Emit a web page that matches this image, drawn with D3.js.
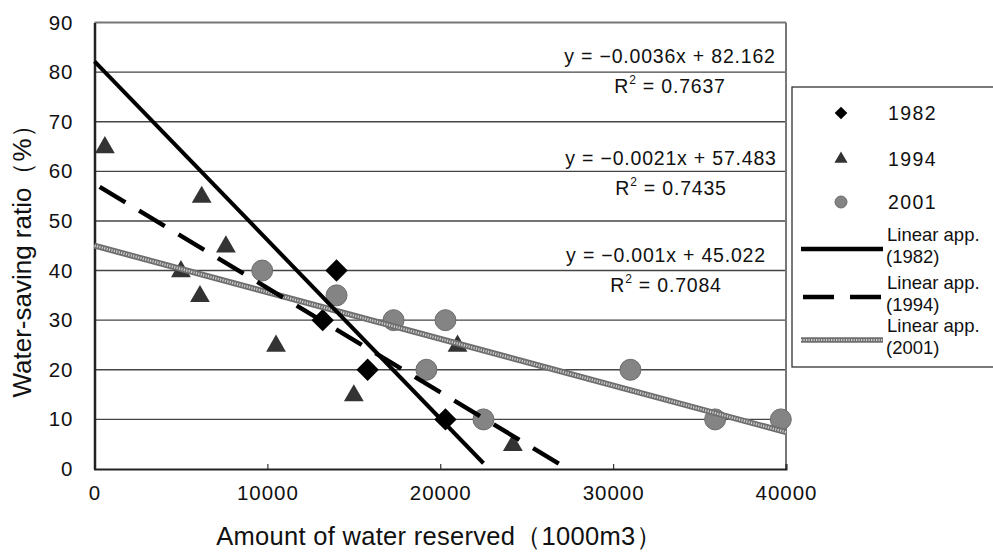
<!DOCTYPE html>
<html lang="en">
<head>
    <meta charset="UTF-8">
    <title>water saving ratio</title>
    <style>
        body{
            overflow: hidden;
            margin: 0;
            background: #fff;
        }
        text{ font-family: "Liberation Sans", Arial, sans-serif; fill: #111; }
    </style>
</head>
<body>
    <script src="https://cdnjs.cloudflare.com/ajax/libs/d3/7.8.2/d3.min.js"></script>
    <script>

// ---- data ----
const years = ['1982', '1994', '2001']

const x1982 = [13200, 14000, 15800, 20300]
const y1982 = [30, 40, 20, 10]

const x1994 = [600, 5000, 6100, 6200, 7600, 10500, 15000, 21000, 24200]
const y1994 = [65, 40, 35, 55, 45, 25, 15, 25, 5]

const x2001 = [9700, 14000, 17300, 19200, 20300, 22500, 31000, 35900, 39700]
const y2001 = [40, 35, 30, 20, 30, 10, 20, 10, 10]

// trend lines (slope, intercept, x range drawn)
const trendSlope = [-0.0036, -0.0021, -0.00094]
const trendIntercept = [82.162, 57.483, 45.022]
const trendFrom = [0, 300, 0]
const trendTo = [22500, 27000, 40000]

const eqText = ['y = \u22120.0036x + 82.162', 'y = \u22120.0021x + 57.483', 'y = \u22120.001x + 45.022']
const r2Text = ['0.7637', '0.7435', '0.7084']

const xTicks = [0, 10000, 20000, 30000, 40000]
const yTicks = [0, 10, 20, 30, 40, 50, 60, 70, 80, 90]

// ---- layout ----
const W = 993, H = 552
const plot = {left: 94.5, right: 786, top: 22.5, bottom: 469}
const eqPos = [[670, 63], [671, 165], [666, 262]]

const svg = d3.select('body')
    .append('svg')
    .attr('width', W)
    .attr('height', H)

const x = d3.scaleLinear().domain([0, 40000]).range([plot.left, plot.right])
const y = d3.scaleLinear().domain([0, 90]).range([plot.bottom, plot.top])

// gridlines
svg.append('g')
    .selectAll('line')
    .data(yTicks.filter(d => d > 0))
    .join('line')
    .attr('x1', plot.left)
    .attr('x2', plot.right)
    .attr('y1', d => y(d))
    .attr('y2', d => y(d))
    .attr('stroke', d => d === 90 ? '#777' : '#444')
    .attr('stroke-width', d => d === 90 ? 2 : 1.4)

// right border
svg.append('line')
    .attr('x1', plot.right).attr('x2', plot.right)
    .attr('y1', plot.top).attr('y2', plot.bottom)
    .attr('stroke', '#777').attr('stroke-width', 2)

// axes
const xAxis = d3.axisBottom(x).tickValues(xTicks).tickSize(-5).tickPadding(16).tickFormat(d3.format('d'))
const gx = svg.append('g').attr('transform', `translate(0,${plot.bottom})`).call(xAxis)
gx.select('.domain').attr('stroke', '#222').attr('stroke-width', 2)
gx.selectAll('.tick line').attr('stroke', '#333').attr('stroke-width', 1.2)
gx.selectAll('.tick text').attr('font-size', 20.5).attr('letter-spacing', 1).attr('fill', '#111')
    .attr('font-family', '"Liberation Sans", Arial, sans-serif')

const yAxis = d3.axisLeft(y).tickValues(yTicks).tickSize(0).tickPadding(21)
const gy = svg.append('g').attr('transform', `translate(${plot.left},0)`).call(yAxis)
gy.select('.domain').attr('stroke', '#222').attr('stroke-width', 2.5)
gy.selectAll('.tick text').attr('font-size', 20.5).attr('letter-spacing', 1).attr('fill', '#111')
    .attr('font-family', '"Liberation Sans", Arial, sans-serif')

// axis titles
svg.append('text')
    .attr('x', 439).attr('y', 545)
    .attr('text-anchor', 'middle')
    .attr('font-size', 25.5)
    .attr('letter-spacing', 0.3)
    .attr('font-family', '"Noto Sans CJK JP", sans-serif')
    .text('Amount of water reserved\uFF081000m3\uFF09')

svg.append('text')
    .attr('transform', 'translate(22,255) rotate(-90)')
    .attr('text-anchor', 'middle')
    .attr('dominant-baseline', 'central')
    .attr('font-size', 26)
    .attr('font-family', '"Noto Sans CJK JP", sans-serif')
    .text('Water-saving ratio\uFF08%\uFF09')

// trend lines
function trendPts(i){
    return [trendFrom[i], trendTo[i]].map(v => [v, trendIntercept[i] + trendSlope[i] * v])
}
const line = d3.line().x(d => x(d[0])).y(d => y(d[1]))

function drawTrend(g, i, pts){
    if(i === 0){
        g.append('path').attr('d', line(pts)).attr('stroke', '#000').attr('stroke-width', 4).attr('fill', 'none')
    } else if(i === 1){
        g.append('path').attr('d', line(pts)).attr('stroke', '#000').attr('stroke-width', 4.5)
            .attr('stroke-dasharray', '30,16').attr('fill', 'none')
    } else {
        g.append('path').attr('d', line(pts)).attr('stroke', '#6e6e6e').attr('stroke-width', 6).attr('fill', 'none')
        g.append('path').attr('d', line(pts)).attr('stroke', '#d0d0d0').attr('stroke-width', 2.5)
            .attr('stroke-dasharray', '1.2,1.3').attr('fill', 'none')
    }
}

const marks = svg.append('g')

function drawMarker(g, i, cx, cy, big){
    if(i === 0){
        g.append('path').attr('d', d3.symbol(d3.symbolSquare, big ? 250 : 80)())
            .attr('transform', `translate(${cx},${cy}) rotate(45)`)
            .attr('fill', '#000')
    } else if(i === 1){
        g.append('path').attr('d', d3.symbol(d3.symbolTriangle, big ? 170 : 75)())
            .attr('transform', `translate(${cx},${cy + (big ? 1 : 0)})`)
            .attr('fill', '#333')
    } else {
        g.append('circle').attr('cx', cx).attr('cy', cy).attr('r', big ? 10.5 : 6)
            .attr('fill', '#848484').attr('stroke', '#6c6c6c').attr('stroke-width', 1)
    }
}

// points first, trend lines over them as in the original
const seriesX = [x1982, x1994, x2001]
const seriesY = [y1982, y1994, y2001]

;[2, 1, 0].forEach(i => {
    seriesX[i].forEach((v, k) => drawMarker(marks, i, x(v), y(seriesY[i][k]), true))
})
;[2, 1, 0].forEach(i => drawTrend(marks, i, trendPts(i)))

// equation labels
eqText.forEach((t, i) => {
    const [cx, by] = eqPos[i]
    svg.append('text')
        .attr('x', cx).attr('y', by)
        .attr('text-anchor', 'middle')
        .attr('font-size', 19.5)
        .attr('letter-spacing', 0.8)
        .text(t)
    const r = svg.append('text')
        .attr('x', cx).attr('y', by + 30)
        .attr('text-anchor', 'middle')
        .attr('font-size', 19.5)
        .attr('letter-spacing', 0.8)
    r.append('tspan').text('R')
    r.append('tspan').attr('font-size', 12).attr('dy', -9).text('2')
    r.append('tspan').attr('dy', 9).text(' = ' + r2Text[i])
})

// legend
const lg = svg.append('g')
lg.append('rect')
    .attr('x', 792).attr('y', 87)
    .attr('width', 215).attr('height', 280)
    .attr('fill', '#fff').attr('stroke', '#333').attr('stroke-width', 1.3)

const legRowY = [113, 159, 202]
years.forEach((yr, i) => {
    drawMarker(lg, i, 841, legRowY[i], false)
    lg.append('text')
        .attr('x', 888).attr('y', legRowY[i] + 7)
        .attr('font-size', 19.5)
        .attr('letter-spacing', 1.4)
        .text(yr)
})

const legLineY = [249, 297, 340]
years.forEach((yr, i) => {
    const ly = legLineY[i]
    const g = lg.append('g')
    const pts = [[801, ly], [883, ly]]
    const l2 = d3.line()
    if(i === 0){
        g.append('path').attr('d', l2(pts)).attr('stroke', '#000').attr('stroke-width', 4.5)
    } else if(i === 1){
        g.append('path').attr('d', l2([[803, ly], [883, ly]])).attr('stroke', '#000').attr('stroke-width', 4.5)
            .attr('stroke-dasharray', '31,16')
    } else {
        g.append('path').attr('d', l2(pts)).attr('stroke', '#6e6e6e').attr('stroke-width', 5.5)
        g.append('path').attr('d', l2(pts)).attr('stroke', '#d0d0d0').attr('stroke-width', 2.2)
            .attr('stroke-dasharray', '1.2,1.3')
    }
    lg.append('text')
        .attr('x', 887).attr('y', ly - 8)
        .attr('font-size', 18.5)
        .text('Linear app.')
    lg.append('text')
        .attr('x', 886).attr('y', ly + 14)
        .attr('font-size', 18.5)
        .text('(' + yr + ')')
})

    </script>
</body>
</html>
